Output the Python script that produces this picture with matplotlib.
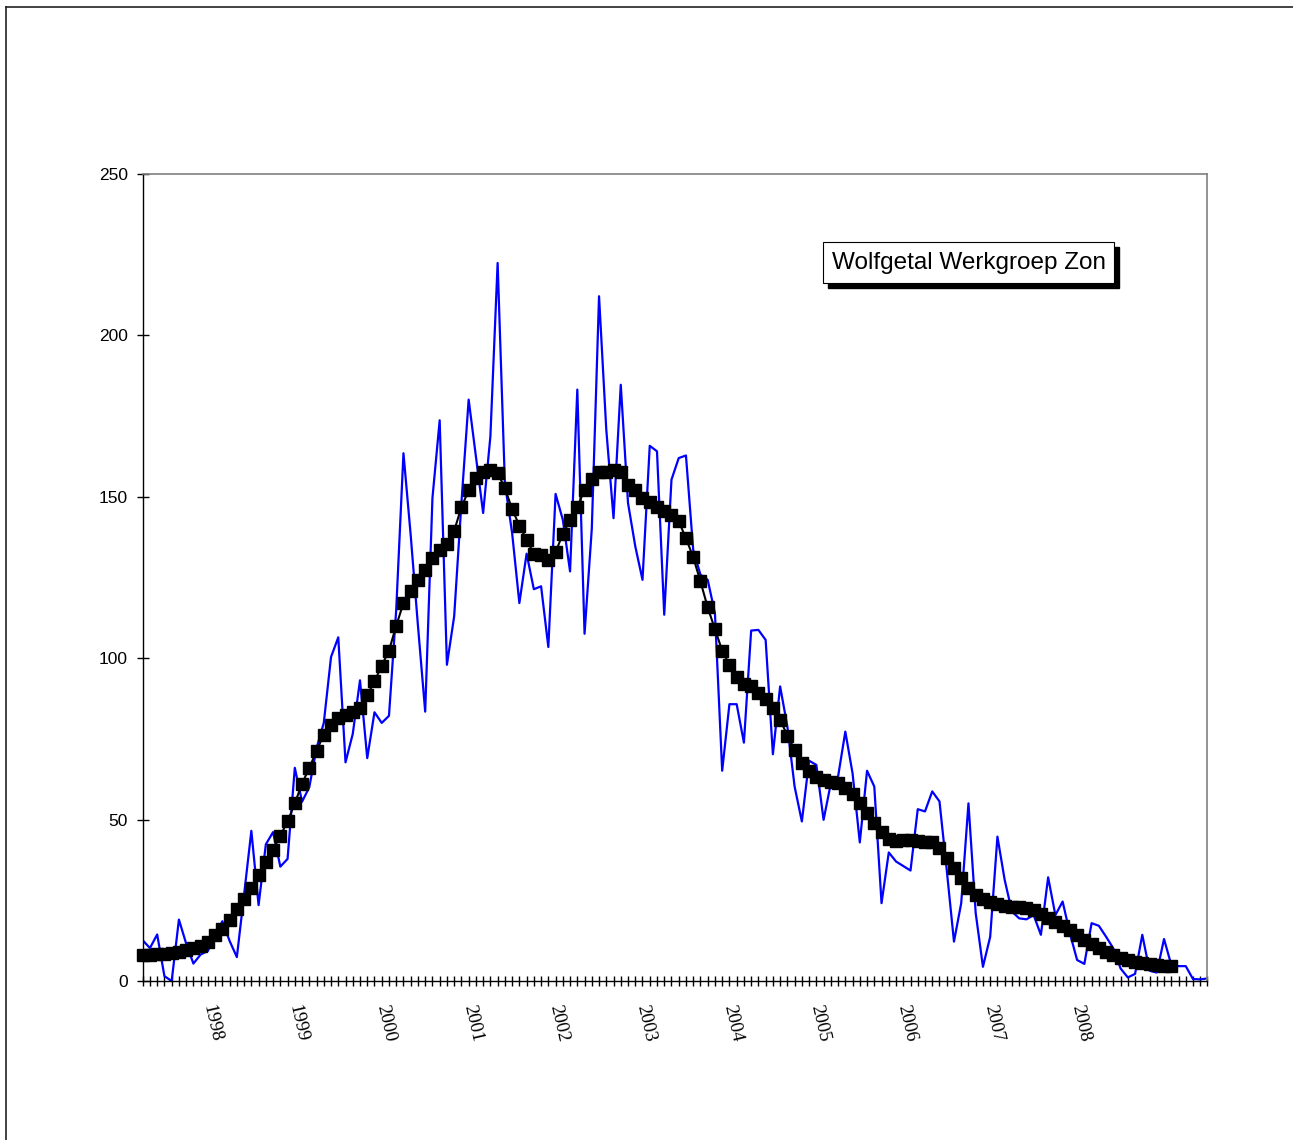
import numpy as np
import matplotlib.pyplot as plt
from matplotlib.ticker import FixedLocator
from matplotlib.patches import Rectangle
from matplotlib.lines import Line2D

# maandwaarden (blauw) en 13-maands gemiddelde (zwarte blokjes)
monthly = [
    12.6, 10.2, 14.4, 1.5, 0.0, 19.0, 11.6, 5.4, 8.2, 9.3,
    14.4, 18.5, 12.4, 7.4, 26.8, 46.5, 23.5, 42.3, 46.1, 35.4,
    37.8, 66.0, 55.5, 60.0, 72.1, 79.9, 100.3, 106.4, 67.7, 76.5,
    93.1, 69.0, 83.2, 79.9, 82.1, 115.0, 163.4, 138.0, 110.0, 83.4,
    149.5, 173.6, 97.9, 112.9, 148.0, 180.0, 162.4, 144.9, 168.6, 222.3,
    154.2, 138.7, 117.0, 132.3, 121.3, 122.2, 103.4, 150.8, 142.8, 126.8,
    183.1, 107.5, 140.0, 212.0, 170.7, 143.3, 184.6, 148.0, 134.6, 124.2,
    165.7, 164.0, 113.4, 155.2, 161.9, 162.7, 133.5, 125.8, 124.2, 113.9,
    65.1, 85.7, 85.7, 73.8, 108.5, 108.7, 105.6, 70.2, 91.2, 78.8,
    60.2, 49.4, 68.2, 66.9, 49.9, 61.2, 63.3, 77.2, 64.3, 42.9,
    65.1, 60.2, 24.1, 39.8, 37.0, 35.6, 34.2, 53.2, 52.5, 58.7,
    55.6, 34.4, 12.2, 24.1, 55.0, 21.0, 4.4, 13.7, 44.7, 31.3,
    21.5, 19.4, 19.1, 20.4, 14.3, 32.1, 20.4, 24.6, 14.8, 6.5,
    5.3, 17.9, 17.1, 13.7, 10.1, 3.9, 1.1, 2.2, 14.3, 3.2,
    2.6, 13.0, 5.0, 4.6, 4.6, 0.6, 0.5, 0.8,
]

smoothed = [
    8.2, 8.2, 8.3, 8.4, 8.6, 9.0, 9.5, 10.1, 10.8, 12.0,
    14.2, 16.0, 18.8, 22.3, 25.4, 28.8, 32.9, 36.7, 40.6, 45.0,
    49.4, 55.0, 61.1, 66.0, 71.2, 76.3, 79.3, 81.5, 82.4, 83.2,
    84.5, 88.5, 92.8, 97.6, 102.3, 110.0, 117.0, 120.6, 124.2, 127.3,
    130.9, 133.5, 135.4, 139.4, 146.7, 151.9, 155.7, 157.5, 158.3, 157.3,
    152.6, 146.1, 141.0, 136.6, 132.3, 132.0, 130.4, 132.7, 138.5, 142.6,
    146.7, 152.1, 155.4, 157.5, 157.5, 158.1, 157.5, 153.7, 151.9, 149.5,
    148.2, 146.9, 145.4, 144.4, 142.3, 137.1, 131.2, 123.7, 115.7, 108.9,
    102.3, 97.9, 94.1, 91.9, 91.2, 89.2, 87.3, 84.5, 80.9, 76.0,
    71.6, 67.6, 65.1, 63.3, 62.1, 61.5, 61.2, 59.7, 57.9, 55.2,
    51.9, 48.8, 46.1, 44.0, 43.4, 43.7, 43.7, 43.2, 43.0, 42.9,
    41.1, 38.0, 34.9, 31.8, 28.7, 26.6, 25.3, 24.6, 23.9, 23.3,
    23.0, 22.8, 22.6, 22.0, 20.8, 19.4, 18.2, 17.1, 15.8, 14.3,
    12.7, 11.4, 10.3, 9.1, 8.1, 7.0, 6.5, 6.0, 5.5, 5.3,
    5.0, 4.8, 4.6,
]

year_labels = ["1998", "1999", "2000", "2001", "2002", "2003",
               "2004", "2005", "2006", "2007", "2008"]
first_january = 9          # index van de eerste januari-maand
y_ticks = [0, 50, 100, 150, 200, 250]
legend_text = "Wolfgetal Werkgroep Zon"

x_month = np.arange(len(monthly))
x_smooth = np.arange(len(smoothed))

fig = plt.figure(figsize=(12.93, 11.40), dpi=100)
ax = fig.add_axes([0.11036, 0.13947, 0.82351, 0.70833])

ax.plot(x_month, monthly, color="#0000ff", linewidth=1.6, zorder=2)
ax.plot(x_smooth, smoothed, color="black", linewidth=1.5, marker="s",
        markersize=8.6, markerfacecolor="black", markeredgecolor="black",
        clip_on=False, zorder=3)

ax.set_xlim(0, len(monthly) - 1)
ax.set_ylim(0, 250)

# y-as
ax.set_yticks(y_ticks)
ax.set_yticklabels([str(v) for v in y_ticks], fontfamily="Liberation Sans", fontsize=12.5)
ax.tick_params(axis="y", direction="inout", length=8.6, width=1.0, pad=6.5, colors="black")

# x-as: streepje per maand, jaartal bij elke januari
ax.xaxis.set_minor_locator(FixedLocator(list(x_month)))
label_pos = [first_january + 0.5 + 12 * k for k in range(len(year_labels))]
ax.xaxis.set_major_locator(FixedLocator(label_pos))
ax.set_xticklabels(year_labels, fontfamily="Liberation Serif", fontsize=13.5, rotation=-77)
ax.tick_params(axis="x", which="major", length=0, pad=16)
ax.tick_params(axis="x", which="minor", direction="inout", length=6.5, width=1.0)

for side in ["left", "bottom"]:
    ax.spines[side].set_color("black")
    ax.spines[side].set_linewidth(1.0)
for side in ["top", "right"]:
    ax.spines[side].set_color("#808080")
    ax.spines[side].set_linewidth(1.2)

# legenda-kader met schaduw
W, H = 1293.0, 1140.0
bx0, by0, bx1, by1 = 823, 242, 1114, 283
fig.add_artist(Rectangle(((bx0 + 5) / W, 1 - (by1 + 5) / H), (bx1 - bx0) / W, (by1 - by0) / H,
                         transform=fig.transFigure, facecolor="black", edgecolor="black"))
fig.add_artist(Rectangle((bx0 / W, 1 - by1 / H), (bx1 - bx0) / W, (by1 - by0) / H,
                         transform=fig.transFigure, facecolor="white", edgecolor="black",
                         linewidth=0.8))
fig.text((bx0 + bx1) / 2 / W, 1 - (by0 + by1) / 2 / H, legend_text,
         fontfamily="Liberation Sans", fontsize=17.5, ha="center", va="center")

# buitenkader van de grafiek
fig.add_artist(Line2D([6 / W, 1.0], [1 - 7 / H, 1 - 7 / H], transform=fig.transFigure,
                      color="#222222", linewidth=1.2))
fig.add_artist(Line2D([6 / W, 6 / W], [0.0, 1 - 7 / H], transform=fig.transFigure,
                      color="#222222", linewidth=1.2))

fig.savefig("out.png", dpi=100)
